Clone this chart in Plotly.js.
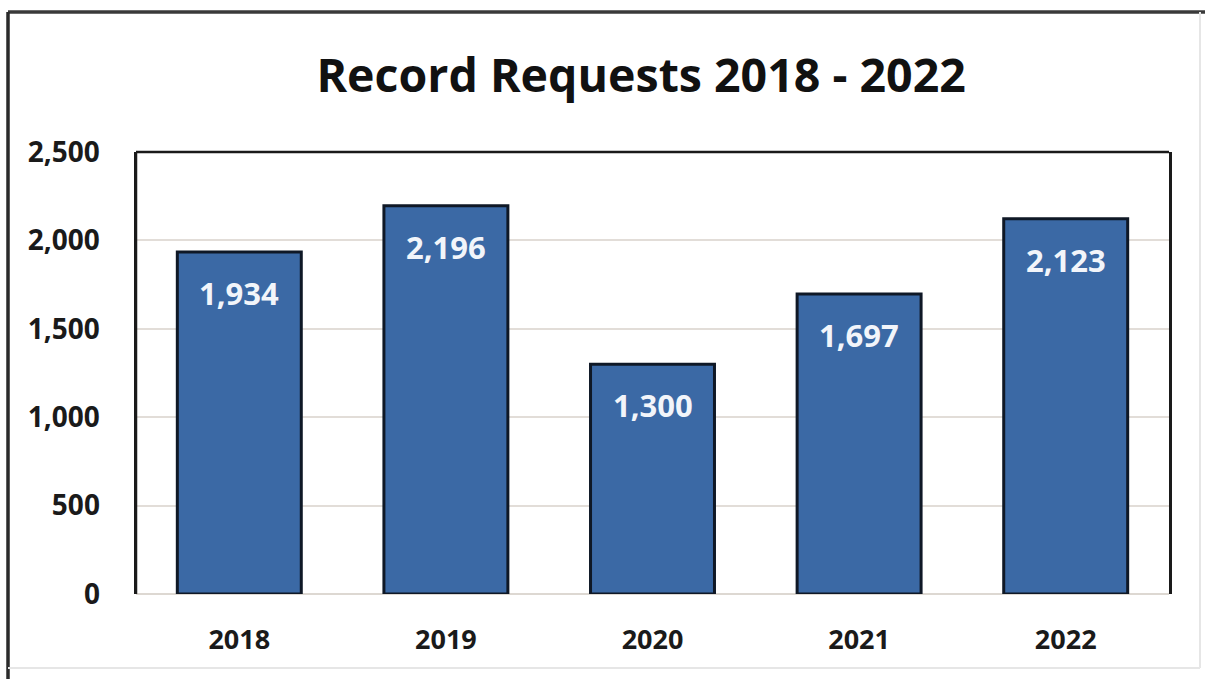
<!DOCTYPE html>
<html>
<head>
<meta charset="utf-8">
<script src="https://cdn.plot.ly/plotly-3.0.1.min.js"></script>
<style>
html,body{margin:0;padding:0;background:#fff;}
#chart{width:1205px;height:679px;}
</style>
</head>
<body>
<div id="chart"></div>
<script>
const years = ['2018', '2019', '2020', '2021', '2022'];
const requests = [1934, 2196, 1300, 1697, 2123];
const yTickVals = [0, 500, 1000, 1500, 2000, 2500];
const yTickText = ['0', '500', '1,000', '1,500', '2,000', '2,500'];
const chartTitle = 'Record Requests 2018 - 2022';

const fontFam = '"Open Sans", "DejaVu Sans", sans-serif';

const trace = {
  type: 'bar',
  x: years,
  y: requests,
  marker: {color: '#3b69a5', line: {color: '#0f1826', width: 3}},
  hoverinfo: 'x+y'
};

const annotations = years.map((yr, i) => ({
  x: i, y: requests[i], xref: 'x', yref: 'y',
  text: requests[i].toLocaleString('en-US'),
  showarrow: false, yanchor: 'middle', yshift: -41,
  font: {family: fontFam, size: 31, color: '#f2f5fa', weight: 700}
}));

const layout = {
  width: 1205, height: 679,
  margin: {l: 136, r: 36, t: 152, b: 85},
  paper_bgcolor: '#ffffff', plot_bgcolor: '#ffffff',
  showlegend: false,
  bargap: 0.4,
  title: {
    text: '<b>' + chartTitle + '</b>',
    font: {family: fontFam, size: 46.5, color: '#111111'},
    x: 0.489, xanchor: 'center', y: 1 - 76/679, yanchor: 'middle', yref: 'container', xref: 'paper'
  },
  xaxis: {
    type: 'category',
    range: [-0.5, years.length - 0.5],
    showgrid: false, zeroline: false, showline: false,
    ticks: '', ticklabelstandoff: 27,
    tickfont: {family: fontFam, size: 27, color: '#1a1a1a', weight: 700}
  },
  yaxis: {
    range: [0, 2500],
    tickvals: yTickVals, ticktext: yTickText,
    showgrid: true, gridcolor: '#e2ddd8', gridwidth: 2,
    zeroline: true, zerolinecolor: '#ddd8d2', zerolinewidth: 2,
    showline: true, linecolor: '#1a1a1a', linewidth: 2.5, mirror: true,
    ticks: '', ticklabelstandoff: 28,
    tickfont: {family: fontFam, size: 28, color: '#1a1a1a', weight: 700}
  },
  annotations: annotations,
  shapes: [
    {type: 'line', xref: 'paper', yref: 'paper', x0: 0, x1: 1, y0: 1, y1: 1, line: {color: '#1a1a1a', width: 2.5}},
    {type: 'line', xref: 'paper', yref: 'paper', x0: 0, x1: 0, y0: 0, y1: 1, line: {color: '#1a1a1a', width: 2.5}},
    {type: 'line', xref: 'paper', yref: 'paper', x0: -128/1033, x1: 1205/1033, y0: 1 + 140/442, y1: 1 + 140/442, line: {color: '#3a3a3a', width: 3.5}},
    {type: 'line', xref: 'paper', yref: 'paper', x0: -128/1033, x1: -128/1033, y0: 1 + 140/442, y1: -85/442, line: {color: '#2a2a2a', width: 3.5}},
    {type: 'line', xref: 'paper', yref: 'paper', x0: 1064/1033, x1: 1064/1033, y0: 1 + 140/442, y1: -74/442, line: {color: '#e6e6e6', width: 2}},
    {type: 'line', xref: 'paper', yref: 'paper', x0: -128/1033, x1: 1064/1033, y0: -74/442, y1: -74/442, line: {color: '#e6e6e6', width: 2}}
  ]
};

Plotly.newPlot('chart', [trace], layout, {staticPlot: true, displayModeBar: false});
</script>
</body>
</html>
